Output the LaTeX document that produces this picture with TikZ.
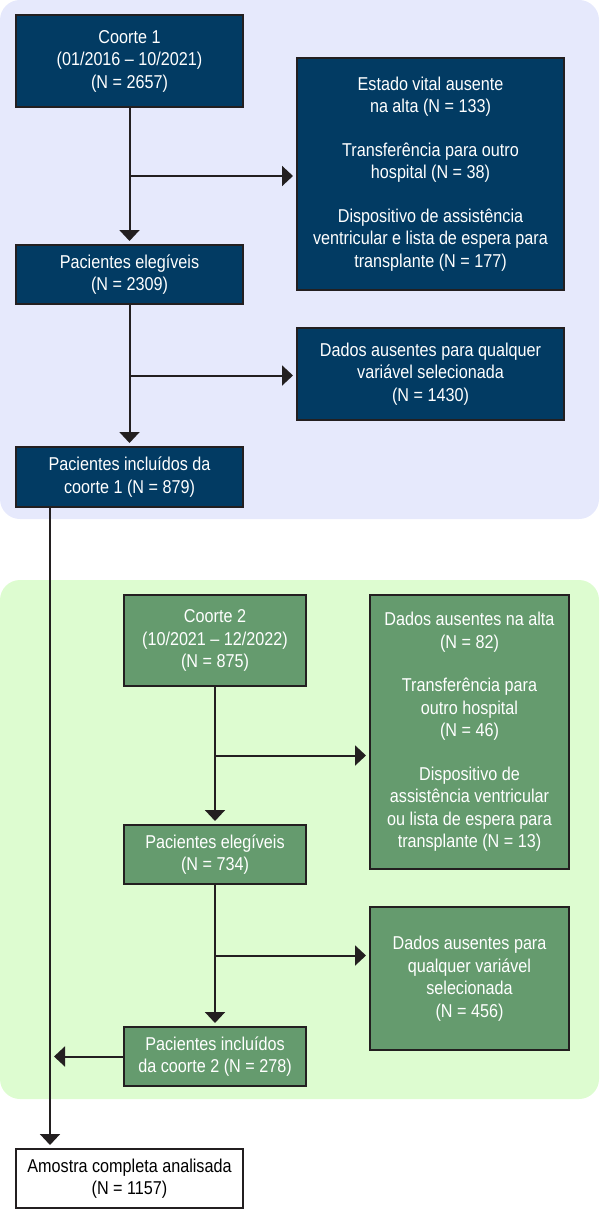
\documentclass[tikz,border=0pt]{standalone}
\usepackage{fontspec}
\setmainfont[FakeStretch=0.87]{Liberation Sans}
\usetikzlibrary{arrows.meta,calc}
\definecolor{bluebg}{HTML}{E6E9FC}
\definecolor{greenbg}{HTML}{DDFCD0}
\definecolor{boxblue}{HTML}{023B63}
\definecolor{boxgreen}{HTML}{659B6E}
\definecolor{linec}{HTML}{231F20}
\begin{document}
\begin{tikzpicture}[x=1pt,y=-1pt,
  every node/.style={inner sep=0pt,outer sep=0pt},
  box/.style={draw=linec,line width=1.2pt,align=center,font=\fontsize{18.6}{22.5}\selectfont},
  bluebox/.style={box,fill=boxblue,text=white},
  greenbox/.style={box,fill=boxgreen,text=white},
  whitebox/.style={box,fill=white,text=black},
  arr/.style={draw=linec,line width=2pt,-{Triangle[length=11pt,width=20pt]},shorten >=4pt},
  panel/.style={rounded corners=20pt}]
\useasboundingbox (0,0) rectangle (600,1209);
\fill[bluebg,panel] (0,0) rectangle (599,519);
\fill[greenbg,panel] (0,580) rectangle (599,1099);

\node[bluebox,minimum width=227pt,minimum height=92pt] (c1) at (129.5,61)
  {Coorte 1\\(01/2016 – 10/2021)\\(N = 2657)};
\node[bluebox,minimum width=267pt,minimum height=232pt] (ex1) at (430.5,174)
  {Estado vital ausente\\na alta (N = 133)\\[21pt]Transferência para outro\\hospital (N = 38)\\[21pt]Dispositivo de assistência\\ventricular e lista de espera para\\transplante (N = 177)};
\node[bluebox,minimum width=227pt,minimum height=59pt] (el1) at (129.5,274.5)
  {Pacientes elegíveis\\(N = 2309)};
\node[bluebox,minimum width=267pt,minimum height=92pt] (ex2) at (430.5,374)
  {Dados ausentes para qualquer\\variável selecionada\\(N = 1430)};
\node[bluebox,minimum width=227pt,minimum height=60pt] (in1) at (129.5,477)
  {Pacientes incluídos da\\coorte 1 (N = 879)};

\node[greenbox,minimum width=182pt,minimum height=91pt] (c2) at (215,640.5)
  {Coorte 2\\(10/2021 – 12/2022)\\(N = 875)};
\node[greenbox,minimum width=199pt,minimum height=274pt] (ex3) at (469.5,732)
  {Dados ausentes na alta\\(N = 82)\\[21pt]Transferência para\\outro hospital\\(N = 46)\\[21pt]Dispositivo de\\assistência ventricular\\ou lista de espera para\\transplante (N = 13)};
\node[greenbox,minimum width=182pt,minimum height=59pt] (el2) at (215,854.5)
  {Pacientes elegíveis\\(N = 734)};
\node[greenbox,minimum width=199pt,minimum height=143pt] (ex4) at (469.5,978.5)
  {Dados ausentes para\\qualquer variável\\selecionada\\(N = 456)};
\node[greenbox,minimum width=182pt,minimum height=59pt] (in2) at (215,1056.5)
  {Pacientes incluídos\\da coorte 2 (N = 278)};

\node[whitebox,minimum width=227pt,minimum height=59pt] (am) at (129.5,1178.5)
  {Amostra completa analisada\\(N = 1157)};

\coordinate (m1) at ($(c1.south)!0.5!(el1.north)$);
\coordinate (m2) at ($(el1.south)!0.5!(in1.north)$);
\coordinate (m3) at ($(c2.south)!0.5!(el2.north)$);
\coordinate (m4) at ($(el2.south)!0.5!(in2.north)$);
\coordinate (ta) at ([xshift=34pt]in1.south west);

\draw[arr] (c1.south) -- (el1.north);
\draw[arr] (m1) -- (m1 -| ex1.west);
\draw[arr] (el1.south) -- (in1.north);
\draw[arr] (m2) -- (m2 -| ex2.west);
\draw[arr] (c2.south) -- (el2.north);
\draw[arr] (m3) -- (m3 -| ex3.west);
\draw[arr] (el2.south) -- (in2.north);
\draw[arr] (m4) -- (m4 -| ex4.west);
\draw[arr] (ta) -- (ta |- am.north);
\draw[arr] (in2.west) -- (in2.west -| ta);
\end{tikzpicture}
\end{document}
